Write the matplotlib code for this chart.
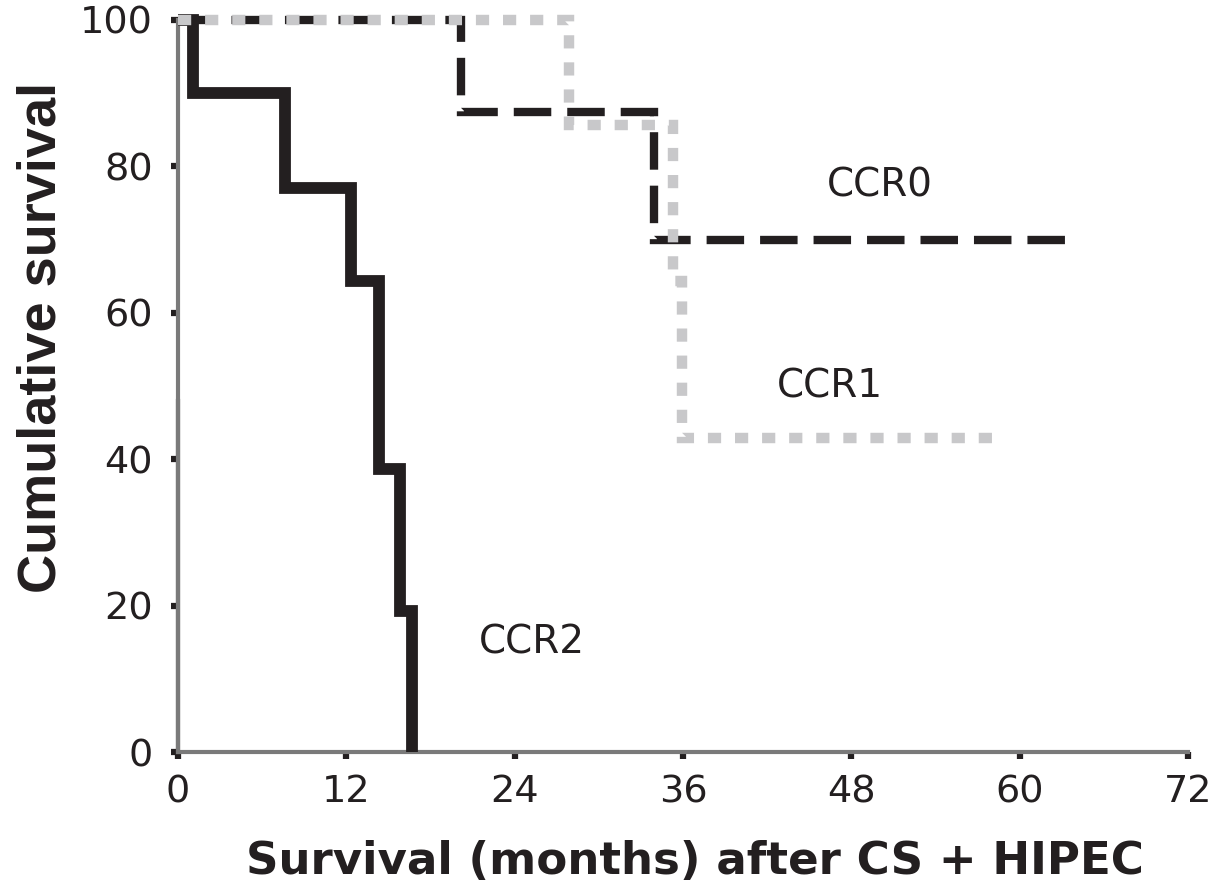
import matplotlib
matplotlib.use("Agg")
import matplotlib.pyplot as plt

# ---- data ----
ccr0_months = [0, 20.2, 33.9, 63.4]
ccr0_surv = [100, 87.5, 70.0, 70.0]

ccr1_months = [0, 27.9, 35.3, 35.9, 58.6]
ccr1_surv = [100, 85.7, 64.3, 42.9, 42.9]

ccr2_months = [0, 1.1, 7.6, 12.3, 14.3, 15.8, 16.7]
ccr2_surv = [100, 90.0, 77.1, 64.3, 38.6, 19.3, 0.0]

x_ticks = [0, 12, 24, 36, 48, 60, 72]
y_ticks = [0, 20, 40, 60, 80, 100]
group_labels = ["CCR0", "CCR1", "CCR2"]
x_title = "Survival (months) after CS + HIPEC"
y_title = "Cumulative survival"

BLACK = "#231f20"
GRAY_LINE = "#c8c8ca"
SPINE = "#7a7a7a"

plt.rcParams["lines.scale_dashes"] = False
plt.rcParams["font.family"] = ["DejaVu Sans"]

fig = plt.figure(figsize=(12.23, 8.81), dpi=100)
ax = fig.add_axes([0.1455, 0.1464, 0.8259, 0.8309])

ax.plot(ccr2_months, ccr2_surv, drawstyle="steps-post", color=BLACK,
        lw=8.5, solid_capstyle="butt", solid_joinstyle="miter", clip_on=False, zorder=3)
ax.plot(ccr0_months, ccr0_surv, drawstyle="steps-post", color=BLACK,
        lw=6.0, linestyle=(0, (27, 11.5)), dash_capstyle="butt",
        dash_joinstyle="miter", clip_on=False, zorder=4)
ax.plot(ccr1_months, ccr1_surv, drawstyle="steps-post", color=GRAY_LINE,
        lw=7.5, linestyle=(0, (9.5, 10)), dash_capstyle="butt",
        dash_joinstyle="miter", clip_on=False, zorder=5)

txt_kw = dict(fontsize=28, color=BLACK, ha="center", va="center")
ax.text(50.0, 77.4, group_labels[0], **txt_kw)
ax.text(46.5, 50.0, group_labels[1], **txt_kw)
ax.text(25.2, 15.0, group_labels[2], **txt_kw)

ax.set_xlim(x_ticks[0], x_ticks[-1])
ax.set_ylim(y_ticks[0], y_ticks[-1])
ax.set_xticks(x_ticks)
ax.set_yticks(y_ticks)
ax.tick_params(axis="both", direction="out", length=5, width=4.5,
               color=BLACK, labelsize=27.5, labelcolor=BLACK)
ax.tick_params(axis="x", pad=11)
ax.tick_params(axis="y", pad=13)

for s in ["top", "right"]:
    ax.spines[s].set_visible(False)
for s in ["left", "bottom"]:
    ax.spines[s].set_color(SPINE)
    ax.spines[s].set_linewidth(3)
# lower part of the left axis line is black in the reference
ax.axvline(x_ticks[0], ymin=0, ymax=0.48, color=BLACK, lw=3, zorder=2.5, clip_on=False)

ax.set_xlabel(x_title, fontsize=32.5, fontweight="bold", color=BLACK,
              family=["DejaVu Sans"])
ax.xaxis.set_label_coords(0.512, -0.12)
ax.set_ylabel(y_title, fontsize=39, fontweight="bold", color=BLACK,
              family=["Liberation Sans", "DejaVu Sans"])
ax.yaxis.set_label_coords(-0.11, 0.567)

fig.savefig("out.png", dpi=100)
